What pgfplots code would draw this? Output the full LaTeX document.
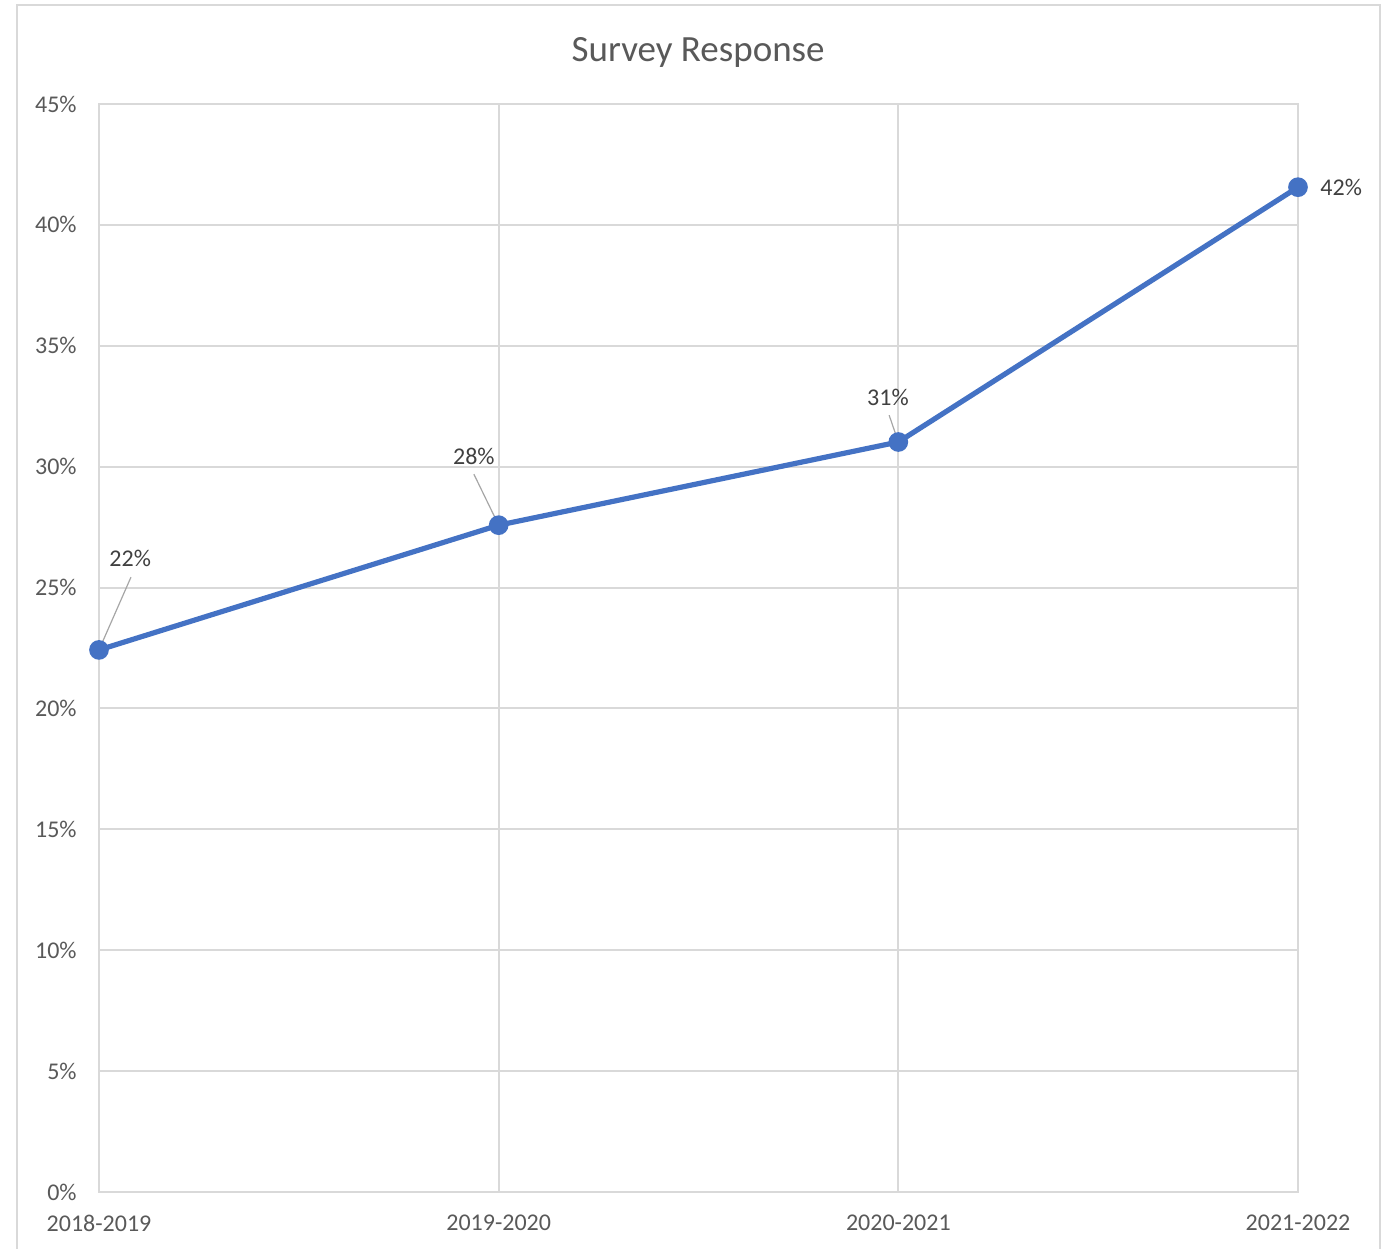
\documentclass[border=0pt]{standalone}
\usepackage{fontspec}
\setmainfont{Carlito}
\usepackage{pgfplots}
\pgfplotsset{compat=1.18}

\definecolor{gridgray}{HTML}{D9D9D9}
\definecolor{ticktext}{HTML}{595959}
\definecolor{labeltext}{HTML}{404040}
\definecolor{lineblue}{HTML}{4472C4}
\definecolor{leader}{HTML}{A6A6A6}

\begin{document}
\begin{tikzpicture}
    % page = 1383 x 1249 px at 0.5bp per px, origin at lower left of the plot area
    \useasboundingbox (-49.5bp,-28.5bp) rectangle (642bp,596bp);
    \draw[gridgray, line width=1bp] (-41bp,593.5bp) rectangle (640.5bp,-60bp);
    \begin{axis}[
        at={(0,0)}, anchor=south west,
        scale only axis,
        width=599.5bp, height=544bp,
        xmin=0, xmax=3,
        ymin=0, ymax=45,
        xtick={0,1,2,3},
        xticklabels={2018-2019,2019-2020,2020-2021,2021-2022},
        ytick={0,5,...,45},
        yticklabel={\pgfmathprintnumber{\tick}\%},
        /pgf/number format/assume math mode=true,
        major tick length=0pt,
        grid=major,
        major grid style={gridgray, line width=1bp},
        axis line style={gridgray, line width=1bp},
        tick label style={font=\fontsize{12bp}{14bp}\selectfont, text=ticktext},
        xticklabel style={anchor=center, yshift=-15.5bp},
        yticklabel style={anchor=east, inner sep=0pt, xshift=-11bp},
        clip=false,
    ]
        \addplot[lineblue, line width=2.6bp, mark=*, mark size=3.6bp,
            mark options={fill=lineblue, draw=lineblue}]
            coordinates {(0,22.42) (1,27.58) (2,31.02) (3,41.56)};

        % data labels with leader lines
        \draw[leader, line width=0.6bp] (axis cs:0,22.42) -- (axis cs:0.08,25.43);
        \draw[leader, line width=0.6bp] (axis cs:1,27.58) -- (axis cs:0.938,29.69);
        \draw[leader, line width=0.6bp] (axis cs:2,31.02) -- (axis cs:1.977,32.13);
        \begin{scope}[every node/.style={font=\fontsize{12bp}{14bp}\selectfont, text=labeltext}]
            \node at (axis cs:0.078,26.22) {22\%};
            \node at (axis cs:0.938,30.44) {28\%};
            \node at (axis cs:1.974,32.88) {31\%};
            \node at (axis cs:3.108,41.56) {42\%};
        \end{scope}

        \node[font=\fontsize{18.5bp}{22bp}\selectfont, text=ticktext]
            at (axis cs:1.499,47.12) {Survey Response};
    \end{axis}
\end{tikzpicture}
\end{document}
